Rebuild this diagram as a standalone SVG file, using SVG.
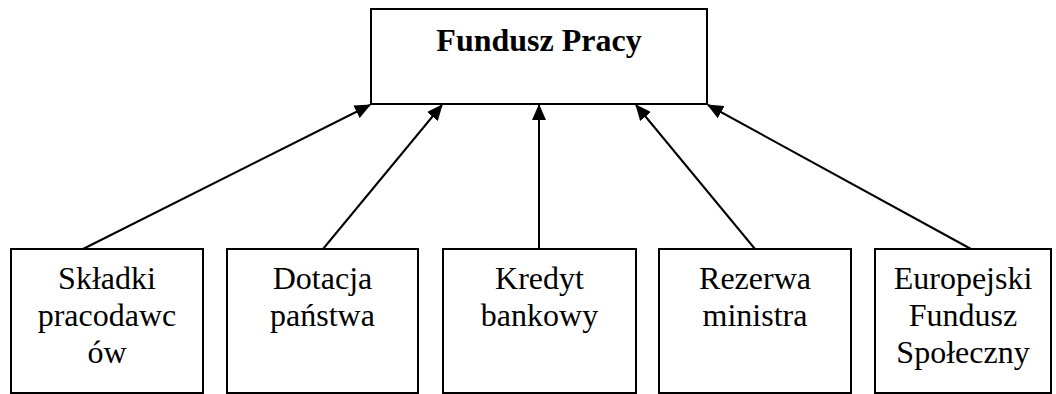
<svg xmlns="http://www.w3.org/2000/svg" width="1056" height="394" viewBox="0 0 1056 394">
<style>
.box{fill:#fff;stroke:#000;stroke-width:2}
text{font-family:'Times New Roman','Liberation Serif','DejaVu Serif',serif;font-size:32px;fill:#000;text-anchor:middle}
text.b{font-weight:bold}
.c{stroke:#000;stroke-width:2;fill:none;marker-end:url(#ah)}
</style>
<defs>
<marker id="ah" markerUnits="userSpaceOnUse" markerWidth="16" markerHeight="14" viewBox="0 0 16 14" refX="15" refY="7" orient="auto">
<path d="M0,0 L16,7 L0,14 z" fill="#000"/>
</marker>
</defs>
<g id="fundusz-pracy">
<rect class="box" x="371" y="9" width="336" height="95"/>
<text class="b" x="539" y="51">Fundusz Pracy</text>
</g>
<g id="skladki">
<rect class="box" x="11" y="249" width="192" height="144"/>
<text x="107" y="289">Składki</text>
<text x="107" y="326">pracodawc</text>
<text x="107" y="363">ów</text>
</g>
<g id="dotacja">
<rect class="box" x="227" y="249" width="191" height="144"/>
<text x="322.5" y="289">Dotacja</text>
<text x="322.5" y="326">państwa</text>
</g>
<g id="kredyt">
<rect class="box" x="443" y="249" width="193" height="144"/>
<text x="539.5" y="289">Kredyt</text>
<text x="539.5" y="326">bankowy</text>
</g>
<g id="rezerwa">
<rect class="box" x="659" y="249" width="192" height="144"/>
<text x="755" y="289">Rezerwa</text>
<text x="755" y="326">ministra</text>
</g>
<g id="efs">
<rect class="box" x="875" y="249" width="176" height="144"/>
<text x="963" y="289">Europejski</text>
<text x="963" y="326">Fundusz</text>
<text x="963" y="363">Społeczny</text>
</g>
<g id="connectors">
<line class="c" x1="83" y1="249" x2="370" y2="105"/>
<line class="c" x1="323" y1="249" x2="442" y2="105"/>
<line class="c" x1="539" y1="249" x2="539" y2="105"/>
<line class="c" x1="755" y1="249" x2="636" y2="105"/>
<line class="c" x1="971" y1="249" x2="708" y2="105"/>
</g>
</svg>
